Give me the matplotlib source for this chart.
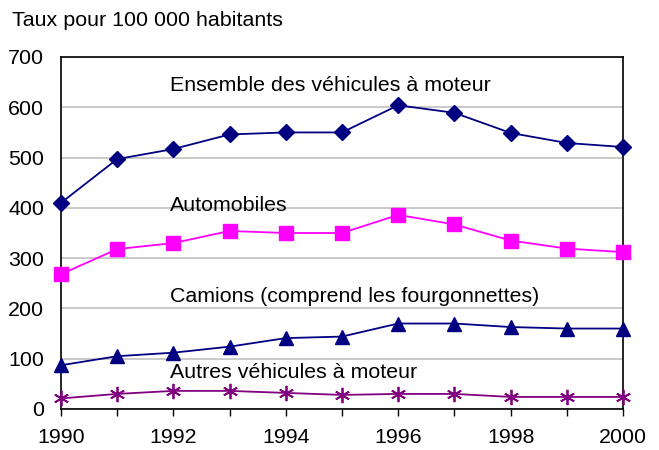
import matplotlib
matplotlib.use("Agg")
import matplotlib.pyplot as plt

plt.rcParams['font.family'] = ['Liberation Sans', 'DejaVu Sans']

years = [1990, 1991, 1992, 1993, 1994, 1995, 1996, 1997, 1998, 1999, 2000]
ensemble = [410, 497, 517, 546, 550, 550, 604, 589, 549, 529, 521]
automobiles = [268, 318, 330, 354, 350, 350, 386, 367, 335, 319, 312]
camions = [87, 105, 112, 124, 141, 144, 170, 170, 163, 160, 160]
autres = [21, 30, 36, 36, 32, 28, 30, 30, 24, 24, 24]

labels = ["Ensemble des véhicules à moteur", "Automobiles",
          "Camions (comprend les fourgonnettes)", "Autres véhicules à moteur"]

fs = 15.4

fig = plt.figure(figsize=(6.59, 4.5), dpi=100)
ax = fig.add_axes([61 / 659, 1 - 409 / 450, (623 - 61) / 659, (409 - 57) / 450])

ax.plot(years, ensemble, color='#000080', marker='D', markersize=8, lw=1.3, clip_on=False, zorder=3)
ax.plot(years, automobiles, color='#FF00FF', marker='s', markersize=10, lw=1.3, clip_on=False, zorder=3)
ax.plot(years, camions, color='#000080', marker='^', markersize=10, lw=1.3, clip_on=False, zorder=3)
ax.plot(years, autres, color='#800080', marker=(6, 2, 0), markersize=11, mew=1.3, lw=1.3,
        clip_on=False, zorder=3)

# series labels
ax.text(1991.94, 644, labels[0], fontsize=fs, va='center')
ax.text(1991.94, 404, labels[1], fontsize=fs, va='center')
ax.text(1991.94, 223, labels[2], fontsize=fs, va='center')
ax.text(1991.94, 72, labels[3], fontsize=fs, va='center')

ax.set_xlim(1990, 2000)
ax.set_ylim(0, 700)
ax.set_yticks(range(0, 701, 100))
ax.set_xticks(years, minor=True)
ax.set_xticks(range(1990, 2001, 2))
ax.tick_params(axis='both', labelsize=fs)
ax.tick_params(axis='x', which='both', direction='out', length=5, width=1, pad=9)
ax.tick_params(axis='y', length=0, pad=12)
ax.grid(axis='y', color='#C0C0C0', lw=1.2)
ax.set_axisbelow(True)
for s in ax.spines.values():
    s.set_linewidth(1.2)
    s.set_color('black')

fig.text(12 / 659, 1 - 20 / 450, "Taux pour 100 000 habitants", fontsize=fs, va='center')

fig.savefig("out.png", dpi=100)
